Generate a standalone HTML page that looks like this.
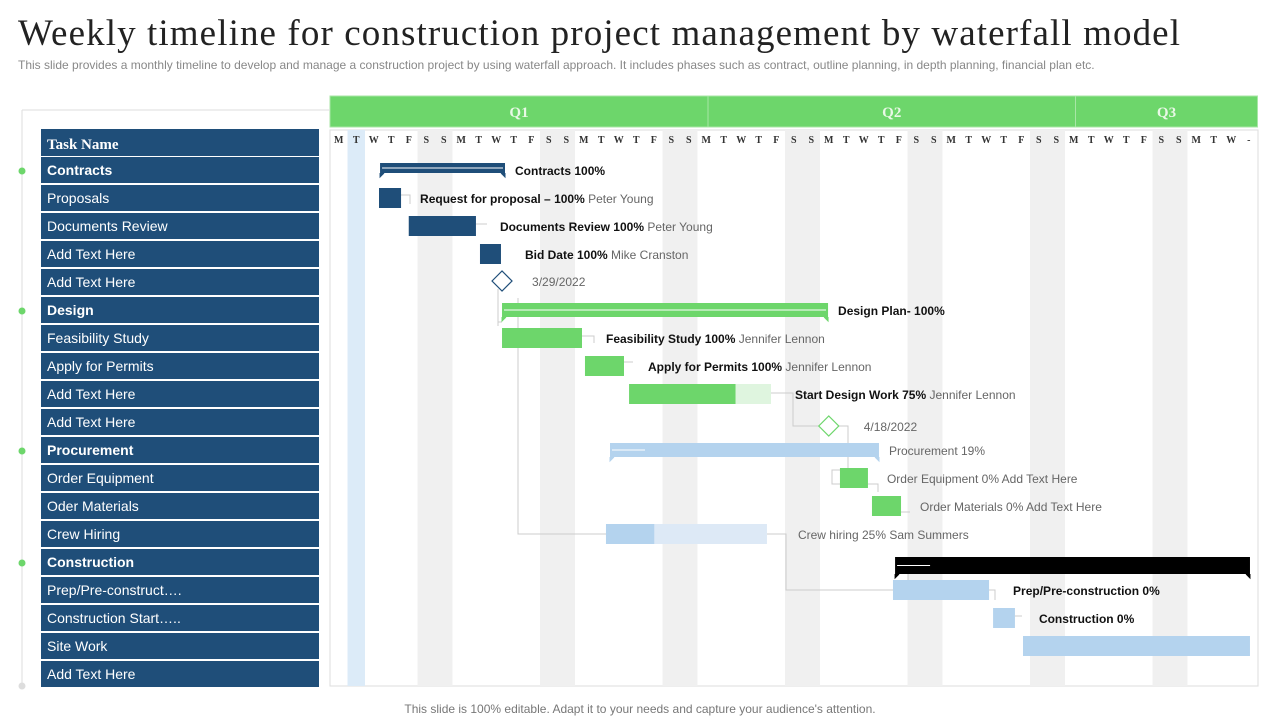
<!DOCTYPE html>
<html><head><meta charset="utf-8"><style>
body{margin:0;width:1280px;height:720px;background:#fff;overflow:hidden;font-family:"Liberation Sans",sans-serif}
svg{position:absolute;left:0;top:0}
</style></head><body>
<svg id="chart" width="1280" height="720">
<text x="18" y="45" font-family="Liberation Serif,serif" font-size="37" letter-spacing="1.1" fill="#222">Weekly timeline for construction project management by waterfall model</text>
<text x="18" y="69" font-size="12" fill="#888">This slide provides a monthly timeline to develop and manage a construction project by using waterfall approach. It includes phases such as contract, outline planning, in depth planning, financial plan etc.</text>
<text x="640" y="713" font-size="12" fill="#777" text-anchor="middle">This slide is 100% editable. Adapt it to your needs and capture your audience's attention.</text>
<g id="grid"></g><g id="left"></g><g id="links"></g><g id="bars"></g>
</svg>
<script>
const dayLetters=["M","T","W","T","F","S","S"];
const numDays=53;
const quarters=["Q1","Q2","Q3"];
const quarterStarts=[0,21.6,42.6];
const quarterEnds=[21.6,42.6,53];
const rowNames=["Contracts","Proposals","Documents Review","Add Text Here","Add Text Here","Design","Feasibility Study","Apply for Permits","Add Text Here","Add Text Here","Procurement","Order Equipment","Oder Materials","Crew Hiring","Construction","Prep/Pre-construct….","Construction Start…..","Site Work","Add Text Here"];
const rowBold=[1,0,0,0,0,1,0,0,0,0,1,0,0,0,1,0,0,0,0];
const taskRows=[0,1,2,3,5,6,7,8,10,11,12,13,14,15,16,17];
const taskStarts=[2.86,2.8,4.5,8.57,9.83,9.83,14.57,17.09,16,29.14,30.97,15.77,32.29,32.17,37.89,39.6];
const taskEnds=[10,4.06,8.34,9.77,28.46,14.4,16.8,25.2,31.37,30.74,32.63,24.97,52.57,37.66,39.14,52.57];
const taskProgress=[1,1,1,1,1,1,1,0.75,1,1,1,0.3,1,1,1,1];
const taskTypes=["sum","task","task","task","sum","task","task","task","sum","task","task","task","sum","task","task","task"];
const taskColors=["#1f4e79","#1f4e79","#1f4e79","#1f4e79","#6dd66b","#6dd66b","#6dd66b","#6dd66b","#b4d3ee","#6dd66b","#6dd66b","#b4d3ee","#000000","#b4d3ee","#b4d3ee","#b4d3ee"];
const taskRest=["","","","","","","","#dff5df","","","","#dde9f6","","","",""];
const taskBold=["Contracts 100%","Request for proposal – 100%","Documents Review 100%","Bid Date 100%","Design Plan- 100%","Feasibility  Study  100%","Apply  for Permits 100%","Start Design Work 75%","","","","","","Prep/Pre-construction 0%","Construction  0%",""];
const taskPlain=["","Peter Young","Peter Young","Mike Cranston","","Jennifer Lennon","Jennifer Lennon","Jennifer Lennon","Procurement 19%","Order Equipment 0% Add Text Here","Order Materials 0% Add Text Here","Crew hiring 25% Sam Summers","","","",""];
const milestoneDays=[9.83,28.5];
const milestoneRows=[4,9];
const milestoneLabels=["3/29/2022","4/18/2022"];
const milestoneColors=["#1f4e79","#6dd66b"];
const NS="http://www.w3.org/2000/svg";
const X0=330,DW=17.5,Y0=170,RH=28;
const x=d=>X0+d*DW, y=r=>Y0+r*RH;
function mk(p,t,a){const e=document.createElementNS(NS,t);for(const k in a)e.setAttribute(k,a[k]);p.appendChild(e);return e;}
const G=document.getElementById('grid'),L=document.getElementById('left'),K=document.getElementById('links'),B=document.getElementById('bars');
let r;
r=mk(G,'rect',{x:330,y:130,width:928,height:556,fill:'#fff',stroke:'#ddd'});

for(let i=0;i<numDays;i++){
  const dl=dayLetters[i%7];
  if(i%7>=5){r=mk(G,'rect',{x:x(i),y:130,width:DW,height:556,fill:'#f0f0f0'});}
  if(i==1){r=mk(G,'rect',{x:x(i),y:130,width:DW,height:556,fill:'#dcebf8'});}
  const t=mk(G,'text',{x:x(i)+DW/2,y:143,'text-anchor':'middle','font-size':10,'font-weight':'bold','font-family':'Liberation Serif,serif',fill:'#333'});
  t.textContent=i==numDays-1?'-':dl;
  
}
quarters.forEach((q,i)=>{
  r=mk(G,'rect',{x:x(quarterStarts[i]),y:96,width:(quarterEnds[i]-quarterStarts[i])*DW,height:31,fill:'#6dd66b',stroke:'#a8e6a6','stroke-width':1});
  
  const t=mk(G,'text',{x:x((quarterStarts[i]+quarterEnds[i])/2),y:117,'text-anchor':'middle','font-size':15,'font-weight':'bold','font-family':'Liberation Serif,serif',fill:'#e9f8e6'});
  t.textContent=q;
});
mk(L,'path',{d:'M22 110 H330 M22 110 V686',stroke:'#ddd',fill:'none'});
r=mk(L,'rect',{x:41,y:129,width:278,height:27,fill:'#1f4e79'});

let t=mk(L,'text',{x:47,y:149,'font-size':15,'font-weight':'bold','font-family':'Liberation Serif,serif',fill:'#fff'});t.textContent='Task Name';

rowNames.forEach((n,i)=>{
  r=mk(L,'rect',{x:41,y:y(i)-13,width:278,height:26,fill:'#1f4e79'});
  
  const tt=mk(L,'text',{x:47,y:y(i)+5,'font-size':14,'font-weight':rowBold[i]?'bold':'normal',fill:'#fff'});tt.textContent=n;
  
  if(rowBold[i]){const c=mk(L,'circle',{cx:22,cy:y(i)+1,r:3.5,fill:'#6dd66b'});}
});
mk(L,'circle',{cx:22,cy:686,r:3.5,fill:'#ddd'});
const lk='M498 289 V326 M498 322 H502 M518 298 V534 H606 M767 534 H786 V590 H893 M771 393 H793 V426 H820 M838 426 H848 V470 H832 V484 H840 M582 336 H594 V343 M624 362 H633 M401 195 H410 V204 M476 224 H487 M868 484 H878 V492 M901 512 H910 M989 590 H995 V600 M1015 616 H1022 M908 565 V580';
mk(K,'path',{d:lk,stroke:'#ccc',fill:'none'});
taskRows.forEach((row,i)=>{
  const x1=x(taskStarts[i]),x2=x(taskEnds[i]),w=x2-x1,cy=y(row);
  let tx;
  if(taskTypes[i]=='sum'){
    const h=row==14?17:(row==0?10:14);const top=row==14?cy-5:cy-7;
    r=mk(B,'rect',{x:x1,y:top,width:w,height:h,fill:taskColors[i]});
    
    mk(B,'path',{d:`M${x1} ${top+h} l0 4 l4 -4 M${x2} ${top+h} l0 4 l-4 -4`,fill:taskColors[i],stroke:taskColors[i]});
    mk(B,'line',{x1:x1+2,x2:row==10||row==14?x1+Math.min(35,w):x2-2,y1:top+h/2,y2:top+h/2,stroke:'#fff','stroke-width':1});
    tx=x2+10;
  }else{
    const top=cy-10;
    if(taskRest[i]){r=mk(B,'rect',{x:x1,y:top,width:w,height:20,fill:taskRest[i]});}
    r=mk(B,'rect',{x:x1,y:top,width:w*taskProgress[i],height:20,fill:taskColors[i]});
    
    tx=x2+(taskBold[i]?(row==1?19:24):(row==13?31:19));
  }
  if(taskBold[i]||taskPlain[i]){
    const tl=mk(B,'text',{x:tx,y:cy+5,'font-size':12,fill:'#666'});
    
    if(taskBold[i]){const s=mk(tl,'tspan',{'font-weight':'bold',fill:'#111'});s.textContent=taskBold[i]+' ';}
    if(taskPlain[i]){const s=mk(tl,'tspan',{});s.textContent=taskPlain[i];}
  }
});
milestoneDays.forEach((d,i)=>{
  const cx=x(d),cy=y(milestoneRows[i])+(i==0?-1:4);
  const p=mk(B,'path',{d:`M${cx-10} ${cy} L${cx} ${cy-10} L${cx+10} ${cy} L${cx} ${cy+10}Z`,fill:'#fff',stroke:milestoneColors[i],'stroke-width':1.2});
  
  const tl=mk(B,'text',{x:cx+(i==0?30:35),y:cy+5,'font-size':12,fill:'#666'});tl.textContent=milestoneLabels[i];
  
});
</script>
</body></html>
